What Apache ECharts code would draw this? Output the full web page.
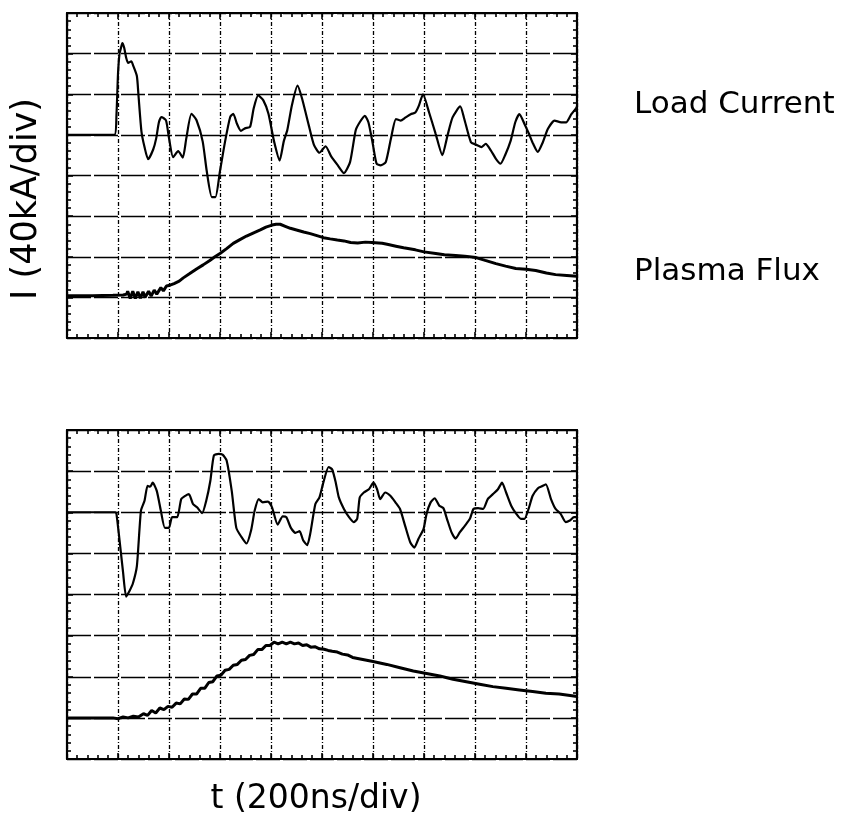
<!DOCTYPE html>
<html>
<head>
<meta charset="utf-8">
<script src="https://cdn.jsdelivr.net/npm/echarts@6/dist/echarts.min.js"></script>
<style>
  html, body { margin: 0; padding: 0; background: #fff; }
  #chart { width: 845px; height: 817px; }
</style>
</head>
<body>
<div id="chart"></div>
<script>
// Time base: 200 ns per division, 10 divisions. Vertical values in graticule divisions (8 per screen).
const timeTicks = [0, 200, 400, 600, 800, 1000, 1200, 1400, 1600, 1800, 2000];
const divTicks = [0, 1, 2, 3, 4, 5, 6, 7, 8];

// Shot 1 - load current
const shot1CurrentT = [0, 186, 194, 200, 206, 212, 217, 224, 232, 240, 252, 260, 274, 280, 292, 304, 318, 338, 350, 360, 370, 388, 400, 416, 436, 454, 468, 488, 508, 532, 548, 568, 582, 600, 620, 640, 652, 666, 682, 698, 718, 732, 750, 770, 790, 812, 834, 850, 864, 882, 904, 922, 948, 968, 990, 1014, 1036, 1062, 1086, 1110, 1132, 1148, 1168, 1182, 1198, 1214, 1230, 1250, 1270, 1290, 1308, 1328, 1348, 1366, 1380, 1396, 1420, 1446, 1472, 1492, 1512, 1542, 1558, 1584, 1604, 1626, 1642, 1662, 1682, 1700, 1718, 1740, 1758, 1774, 1794, 1812, 1828, 1846, 1866, 1886, 1912, 1938, 1958, 1978, 1996, 2000];
const shot1CurrentV = [5.00, 5.00, 5.5, 6.5, 7.0, 7.15, 7.26, 7.15, 6.9, 6.77, 6.81, 6.70, 6.45, 6.0, 5.08, 4.70, 4.40, 4.64, 4.92, 5.30, 5.44, 5.36, 4.92, 4.45, 4.60, 4.44, 4.92, 5.52, 5.36, 4.84, 4.11, 3.47, 3.47, 4.11, 4.84, 5.44, 5.52, 5.28, 5.10, 5.16, 5.20, 5.65, 5.97, 5.85, 5.52, 4.84, 4.37, 4.84, 5.12, 5.73, 6.21, 5.89, 5.24, 4.76, 4.56, 4.72, 4.47, 4.25, 4.06, 4.33, 5.11, 5.31, 5.47, 5.31, 4.82, 4.29, 4.25, 4.33, 4.90, 5.39, 5.35, 5.43, 5.51, 5.55, 5.72, 6.00, 5.55, 5.02, 4.50, 4.98, 5.43, 5.70, 5.39, 4.82, 4.76, 4.70, 4.78, 4.62, 4.41, 4.29, 4.50, 4.86, 5.31, 5.51, 5.27, 5.02, 4.78, 4.58, 4.82, 5.15, 5.35, 5.31, 5.31, 5.51, 5.65, 5.70];

// Shot 1 - plasma flux
const shot1FluxT = [0, 100, 180, 220, 234, 238, 248, 258, 268, 278, 288, 298, 306, 320, 330, 342, 352, 368, 378, 390, 404, 420, 440, 456, 480, 508, 534, 560, 580, 600, 626, 652, 678, 704, 732, 758, 780, 804, 820, 836, 856, 876, 900, 928, 954, 980, 1006, 1032, 1060, 1086, 1112, 1140, 1170, 1196, 1236, 1260, 1290, 1320, 1366, 1400, 1446, 1480, 1524, 1560, 1604, 1640, 1682, 1720, 1760, 1800, 1838, 1880, 1916, 1960, 2000];
const shot1FluxV = [1.04, 1.04, 1.05, 1.06, 1.08, 1.15, 0.97, 1.15, 0.97, 1.14, 0.98, 1.14, 1.00, 1.15, 1.03, 1.18, 1.08, 1.24, 1.16, 1.28, 1.30, 1.34, 1.40, 1.48, 1.58, 1.70, 1.80, 1.91, 2.00, 2.08, 2.20, 2.33, 2.42, 2.51, 2.59, 2.66, 2.73, 2.78, 2.80, 2.80, 2.75, 2.70, 2.66, 2.61, 2.57, 2.52, 2.47, 2.44, 2.41, 2.39, 2.35, 2.34, 2.36, 2.35, 2.33, 2.30, 2.26, 2.22, 2.17, 2.12, 2.08, 2.05, 2.03, 2.01, 1.98, 1.91, 1.83, 1.77, 1.71, 1.69, 1.66, 1.60, 1.56, 1.54, 1.52];

// Shot 2 - load current
const shot2CurrentT = [0, 190, 194, 206, 220, 232, 246, 258, 274, 290, 304, 316, 326, 336, 352, 368, 384, 400, 412, 432, 448, 464, 478, 494, 510, 530, 546, 562, 576, 594, 610, 626, 646, 664, 684, 704, 722, 736, 752, 768, 788, 804, 826, 846, 860, 878, 896, 912, 926, 942, 954, 974, 990, 1006, 1026, 1040, 1054, 1066, 1086, 1106, 1124, 1138, 1148, 1164, 1184, 1202, 1216, 1228, 1248, 1268, 1288, 1306, 1326, 1346, 1362, 1378, 1398, 1410, 1426, 1442, 1460, 1476, 1490, 1508, 1524, 1540, 1560, 1580, 1594, 1612, 1632, 1650, 1670, 1690, 1706, 1722, 1742, 1762, 1780, 1794, 1810, 1826, 1846, 1862, 1878, 1898, 1916, 1936, 1956, 1972, 1988, 2000];
const shot2CurrentV = [6.00, 6.00, 5.96, 5.32, 4.53, 3.95, 4.10, 4.26, 4.69, 6.04, 6.28, 6.64, 6.62, 6.72, 6.52, 6.04, 5.62, 5.62, 5.88, 5.88, 6.32, 6.40, 6.44, 6.20, 6.12, 5.98, 6.28, 6.76, 7.38, 7.42, 7.40, 7.26, 6.52, 5.62, 5.40, 5.24, 5.56, 6.04, 6.32, 6.24, 6.26, 6.12, 5.70, 5.90, 5.88, 5.62, 5.50, 5.54, 5.32, 5.20, 5.48, 6.20, 6.36, 6.74, 7.10, 7.04, 6.72, 6.36, 6.08, 5.88, 5.76, 5.84, 6.36, 6.48, 6.56, 6.72, 6.56, 6.32, 6.48, 6.40, 6.24, 6.08, 5.67, 5.27, 5.14, 5.35, 5.59, 5.96, 6.24, 6.34, 6.16, 6.10, 5.84, 5.51, 5.36, 5.51, 5.67, 5.84, 6.08, 6.10, 6.08, 6.32, 6.44, 6.56, 6.72, 6.48, 6.16, 5.96, 5.84, 5.84, 6.08, 6.40, 6.58, 6.63, 6.68, 6.32, 6.08, 5.96, 5.76, 5.80, 5.88, 5.88];

// Shot 2 - plasma flux
const shot2FluxT = [0, 180, 200, 220, 240, 260, 280, 300, 316, 332, 348, 364, 380, 396, 412, 428, 444, 460, 476, 492, 508, 524, 540, 556, 572, 588, 604, 620, 636, 652, 668, 684, 700, 716, 732, 748, 764, 780, 796, 812, 828, 844, 860, 876, 892, 908, 924, 940, 956, 972, 990, 1008, 1024, 1040, 1060, 1080, 1100, 1120, 1160, 1200, 1254, 1306, 1358, 1410, 1462, 1514, 1566, 1618, 1670, 1722, 1774, 1826, 1878, 1930, 1980, 2000];
const shot2FluxV = [1.00, 1.00, 0.98, 1.02, 1.00, 1.04, 1.02, 1.10, 1.06, 1.18, 1.12, 1.24, 1.20, 1.28, 1.26, 1.36, 1.34, 1.46, 1.45, 1.58, 1.58, 1.72, 1.72, 1.86, 1.88, 2.02, 2.04, 2.16, 2.18, 2.28, 2.30, 2.40, 2.42, 2.52, 2.54, 2.66, 2.66, 2.76, 2.76, 2.84, 2.80, 2.84, 2.80, 2.84, 2.80, 2.82, 2.76, 2.78, 2.72, 2.73, 2.68, 2.67, 2.64, 2.62, 2.60, 2.55, 2.53, 2.47, 2.42, 2.37, 2.30, 2.22, 2.14, 2.08, 2.02, 1.94, 1.88, 1.82, 1.76, 1.72, 1.68, 1.64, 1.60, 1.58, 1.54, 1.52];

const pair = (t, v) => t.map((x, i) => [x, v[i]]);

const INK = '#000';

function xAxisPair(gridIndex) {
  const common = {
    type: 'value', gridIndex,
    min: timeTicks[0], max: timeTicks[timeTicks.length - 1],
    interval: timeTicks[1] - timeTicks[0],
    axisLine: { show: true, onZero: false, lineStyle: { color: INK, width: 2.2 } },
    axisTick: { show: true, inside: true, length: 6, lineStyle: { color: INK, width: 1.6 } },
    minorTick: { show: true, splitNumber: 5, length: 4, lineStyle: { color: INK, width: 1.6 } },
    axisLabel: { show: false }
  };
  return [
    Object.assign({}, common, { position: 'bottom',
      splitLine: { show: true, lineStyle: { color: INK, width: 1.3, type: [4, 2, 1, 2] } } }),
    Object.assign({}, common, { position: 'top', splitLine: { show: false } })
  ];
}

function yAxisPair(gridIndex) {
  const common = {
    type: 'value', gridIndex,
    min: divTicks[0], max: divTicks[divTicks.length - 1],
    interval: divTicks[1] - divTicks[0],
    axisLine: { show: true, onZero: false, lineStyle: { color: INK, width: 2.2 } },
    axisTick: { show: true, inside: true, length: 6, lineStyle: { color: INK, width: 1.6 } },
    minorTick: { show: true, splitNumber: 5, length: 4, lineStyle: { color: INK, width: 1.6 } },
    axisLabel: { show: false }
  };
  return [
    Object.assign({}, common, { position: 'left',
      splitLine: { show: true, lineStyle: { color: INK, width: 1.3, type: [24, 3] } } }),
    Object.assign({}, common, { position: 'right', splitLine: { show: false } })
  ];
}

function trace(data, axisIndex, width, smooth) {
  return {
    type: 'line', data, xAxisIndex: axisIndex, yAxisIndex: axisIndex,
    showSymbol: false, symbol: 'none', smooth,
    lineStyle: { color: INK, width }, z: 5, silent: true
  };
}

const chart = echarts.init(document.getElementById('chart'), null, { renderer: 'canvas' });
chart.setOption({
  animation: false,
  backgroundColor: '#fff',
  grid: [
    { left: 67, top: 13, width: 510, height: 325 },
    { left: 67, top: 430, width: 510, height: 329 }
  ],
  xAxis: [...xAxisPair(0), ...xAxisPair(1)],
  yAxis: [...yAxisPair(0), ...yAxisPair(1)],
  series: [
    trace(pair(shot1CurrentT, shot1CurrentV), 0, 2.2, 0.2),
    trace(pair(shot1FluxT, shot1FluxV), 0, 3, false),
    trace(pair(shot2CurrentT, shot2CurrentV), 2, 2.2, 0.2),
    trace(pair(shot2FluxT, shot2FluxV), 2, 3, false)
  ],
  graphic: [
    { type: 'text', x: 634, y: 105, style: { text: 'Load Current', fill: INK,
      font: '31px "DejaVu Sans"', textAlign: 'left', textVerticalAlign: 'middle' } },
    { type: 'text', x: 634, y: 272, style: { text: 'Plasma Flux', fill: INK,
      font: '31px "DejaVu Sans"', textAlign: 'left', textVerticalAlign: 'middle' } },
    { type: 'text', x: 316, y: 799, style: { text: 't (200ns/div)', fill: INK,
      font: '33px "DejaVu Sans"', textAlign: 'center', textVerticalAlign: 'middle' } },
    { type: 'text', x: 27, y: 199, rotation: Math.PI / 2, style: { text: 'I (40kA/div)', fill: INK,
      font: '35px "DejaVu Sans"', textAlign: 'center', textVerticalAlign: 'middle' } }
  ]
});
</script>
</body>
</html>
